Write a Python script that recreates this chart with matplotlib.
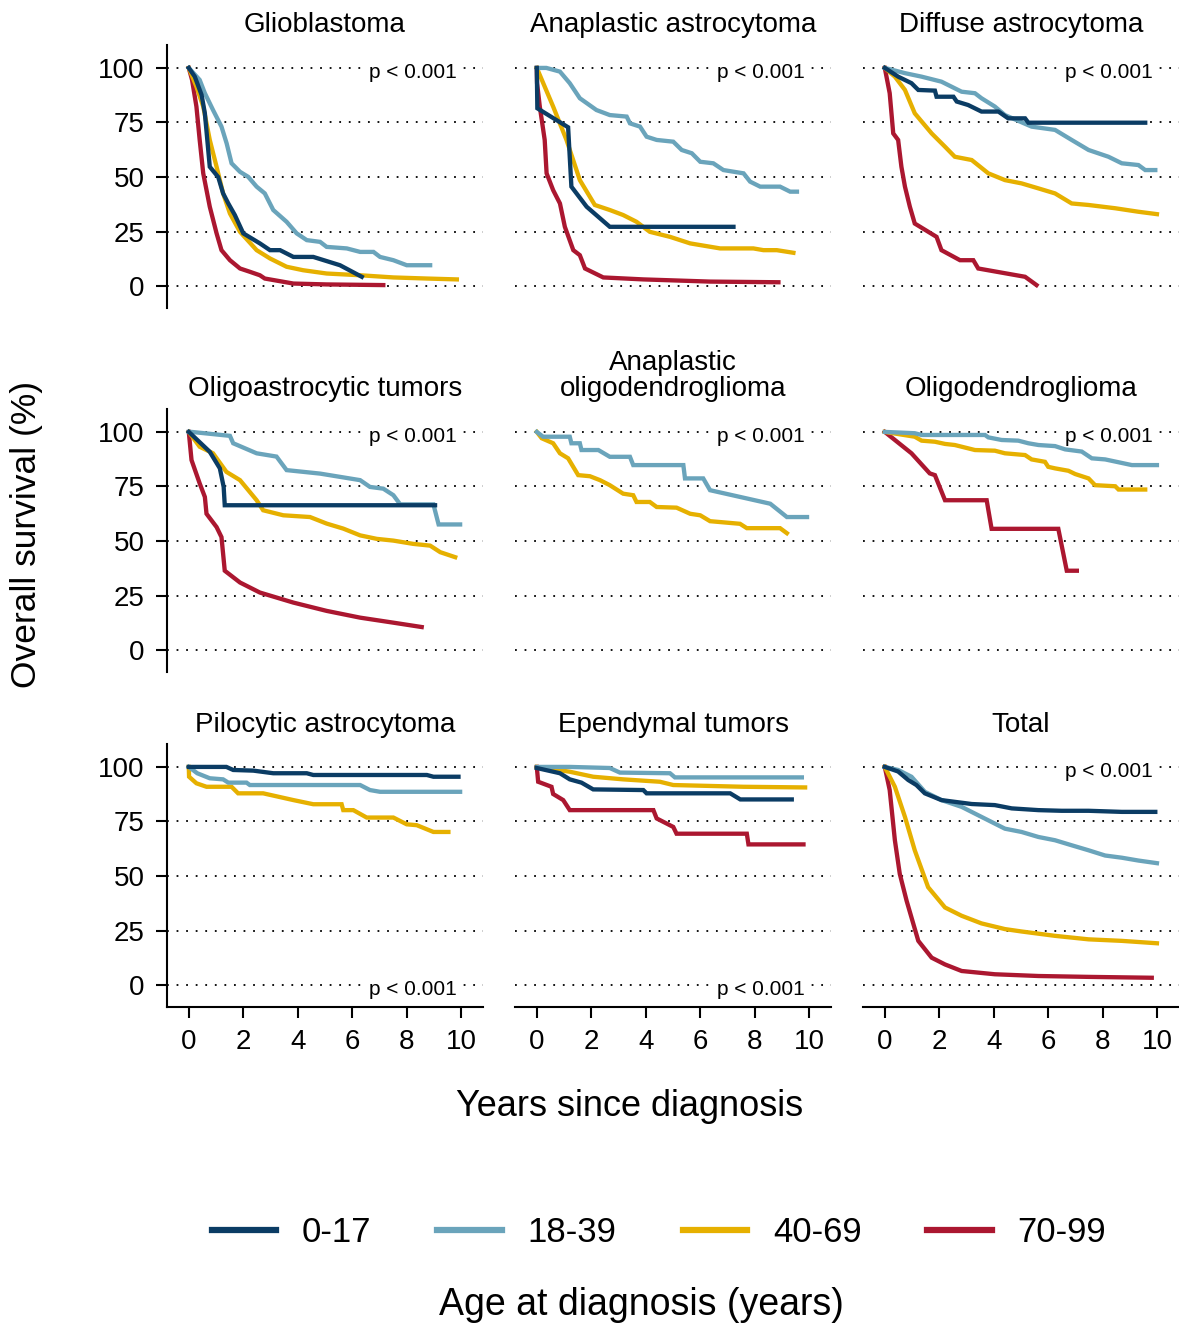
import matplotlib.pyplot as plt
from matplotlib.lines import Line2D

plt.rcParams['font.family'] = ['Liberation Sans', 'DejaVu Sans']

# age groups and colours
ages = ['0-17', '18-39', '40-69', '70-99']
colors = ['#0b3c64', '#6aa4bb', '#e6b000', '#ab1730']

titles = ['Glioblastoma', 'Anaplastic astrocytoma', 'Diffuse astrocytoma',
          'Oligoastrocytic tumors', 'Anaplastic\noligodendroglioma', 'Oligodendroglioma',
          'Pilocytic astrocytoma', 'Ependymal tumors', 'Total']
p_text = 'p < 0.001'
p_bottom = [False, False, False, False, False, False, True, True, False]

# survival curves (years, %)
gbm_0_17 = [(0, 100), (0.22, 96), (0.47, 87.6), (0.59, 79.2), (0.77, 54.7), (1.08, 50), (1.26, 42.5),
            (1.45, 37.9), (1.69, 32.6), (2.0, 24.2), (2.61, 19.6), (2.98, 16.5), (3.35, 16.5), (3.84, 13.4),
            (4.57, 13.4), (5.55, 9.6), (6.35, 4.3)]
gbm_18_39 = [(0, 100), (0.4, 94.5), (0.59, 88.4), (0.89, 80.7), (1.2, 73.1), (1.39, 65.4), (1.57, 56.3),
             (1.88, 52.4), (2.18, 50.1), (2.49, 45.6), (2.79, 42.5), (3.1, 34.9), (3.59, 29.5), (3.96, 24.2),
             (4.33, 21.1), (4.82, 20.3), (5.06, 18), (5.8, 17.3), (6.29, 15.7), (6.78, 15.7), (7.02, 13.4),
             (7.51, 11.9), (8.0, 9.6), (8.86, 9.6)]
gbm_40_69 = [(0, 100), (0.28, 91.4), (0.53, 82.3), (0.77, 67), (1.02, 54.7), (1.26, 42.5), (1.51, 33.3),
             (1.88, 24.9), (2.49, 16.5), (2.98, 12.7), (3.59, 8.9), (4.2, 7.3), (5.06, 5.8), (6.29, 5.0),
             (7.51, 4.0), (8.74, 3.5), (9.84, 3.1)]
gbm_70_99 = [(0, 100), (0.12, 94.5), (0.28, 82.3), (0.4, 67), (0.53, 51.7), (0.77, 36.4), (1.02, 24.2),
             (1.2, 16.5), (1.51, 11.9), (1.88, 8.1), (2.24, 6.6), (2.61, 5.0), (2.79, 3.5), (3.84, 1.2),
             (5.06, 0.8), (7.14, 0.5)]

aa_0_17 = [(0, 100), (0.02, 81.5), (1.15, 72.8), (1.27, 45.6), (1.83, 36.4), (2.68, 27.2), (7.22, 27.2)]
aa_18_39 = [(0, 100), (0.35, 100), (0.85, 98.3), (1.21, 93), (1.58, 86.1), (2.19, 80.7), (2.68, 78.4),
            (3.3, 77.7), (3.42, 74.6), (3.79, 73.1), (4.03, 68.5), (4.4, 67), (5.01, 66.2), (5.32, 62.4),
            (5.69, 60.9), (6.0, 57), (6.48, 56.3), (6.85, 53.2), (7.59, 51.7), (7.83, 47.9), (8.2, 45.6),
            (8.93, 45.6), (9.3, 43.3), (9.55, 43.3)]
aa_40_69 = [(0, 100), (0.6, 82.3), (1.09, 67), (1.58, 48.6), (2.13, 37.2), (2.68, 34.9), (3.17, 32.6),
            (3.66, 29.5), (4.15, 24.9), (4.89, 22.6), (5.26, 21.1), (5.63, 19.6), (6.73, 17.3), (7.95, 17.3),
            (8.32, 16.5), (8.81, 16.5), (9.42, 15.3)]
aa_70_99 = [(0, 100), (0.01, 93), (0.11, 82.3), (0.29, 67), (0.36, 51.7), (0.6, 44), (0.85, 37.9),
            (1.03, 27.2), (1.34, 16.5), (1.58, 14.2), (1.77, 8.1), (2.44, 4.0), (3.91, 3.1), (6.36, 2.1),
            (8.87, 1.8)]

da_0_17 = [(0, 100), (0.49, 96), (0.98, 93), (1.23, 89.9), (1.84, 89.6), (1.9, 86.8), (2.52, 86.8),
           (2.64, 84.6), (3.06, 83), (3.55, 80), (4.17, 80), (4.53, 76.9), (5.15, 76.9), (5.27, 74.9),
           (9.56, 74.9)]
da_18_39 = [(0, 100), (0.74, 97.6), (1.35, 96), (2.08, 93.7), (2.82, 89.1), (3.31, 88.4), (3.55, 86.1),
            (4.04, 82.3), (4.41, 78.4), (5.39, 73.1), (6.25, 71.6), (6.86, 67), (7.48, 62.4), (8.21, 59.3),
            (8.7, 56.3), (9.31, 55.5), (9.56, 53.2), (9.93, 53.2)]
da_40_69 = [(0, 100), (0.37, 96), (0.74, 89.9), (1.1, 79.2), (1.72, 70), (2.21, 63.9), (2.57, 59.3),
            (3.19, 57.8), (3.8, 51.7), (4.41, 48.6), (5.02, 47.1), (5.64, 44.8), (6.25, 42.5), (6.86, 37.9),
            (7.48, 37.2), (8.46, 35.7), (9.31, 34.1), (9.99, 33.0)]
da_70_99 = [(0, 100), (0.18, 88.4), (0.31, 70), (0.49, 67), (0.61, 54.7), (0.74, 45.6), (0.92, 36.4),
            (1.1, 28.7), (1.9, 22.6), (2.08, 16.5), (2.76, 11.9), (3.25, 11.9), (3.43, 8.1), (5.15, 4.3),
            (5.57, 0.5)]

oa_0_17 = [(0, 100), (0.77, 90.9), (1.14, 83.3), (1.28, 74.8), (1.32, 66.4), (9.04, 66.4)]
oa_18_39 = [(0, 100), (0.1, 100), (1.51, 98.2), (1.63, 94.8), (2.49, 90.2), (3.22, 88.7), (3.59, 82.5),
            (4.82, 80.9), (6.29, 77.9), (6.65, 74.8), (7.14, 74.0), (7.51, 71.0), (7.76, 66.8), (8.98, 66.8),
            (9.17, 57.6), (9.96, 57.6)]
oa_40_69 = [(0, 100), (0.4, 93.2), (0.89, 90.2), (1.38, 81.7), (1.88, 77.9), (2.49, 68.7), (2.73, 64.1),
            (3.47, 61.8), (4.45, 61.0), (5.06, 58.0), (5.67, 55.7), (6.29, 52.6), (6.9, 51.0), (7.51, 50.2),
            (8.24, 48.7), (8.86, 47.9), (9.23, 44.9), (9.78, 42.6)]
oa_70_99 = [(0, 100), (0.1, 87.1), (0.4, 76.4), (0.59, 70.2), (0.65, 62.5), (1.02, 56.4), (1.2, 51.8),
            (1.32, 36.4), (1.88, 31.0), (2.61, 26.4), (3.84, 21.8), (5.06, 18.0), (6.29, 14.9), (7.51, 12.6),
            (8.55, 10.6)]

ao_18_39 = [(0, 100), (0.23, 97.8), (1.21, 97.8), (1.27, 94.8), (1.58, 94.8), (1.64, 91.7), (2.26, 91.7),
            (2.68, 88.6), (3.42, 88.6), (3.54, 84.8), (5.38, 84.8), (5.44, 78.7), (6.11, 78.7), (6.36, 73.3),
            (8.57, 67.1), (9.18, 61.0), (9.92, 61.0)]
ao_40_69 = [(0, 100), (0.18, 97.1), (0.6, 94.8), (0.85, 90.2), (1.15, 87.9), (1.52, 80.2), (1.95, 79.7),
            (2.32, 77.9), (2.68, 75.6), (3.17, 71.7), (3.54, 71.0), (3.66, 67.9), (4.15, 67.9), (4.4, 65.6),
            (5.13, 65.3), (5.63, 62.5), (6.0, 61.8), (6.36, 59.1), (6.73, 58.7), (7.46, 57.9), (7.71, 55.9),
            (8.93, 55.9), (9.18, 53.6)]

od_18_39 = [(0, 100), (1.1, 99.4), (1.35, 98.6), (3.68, 98.6), (3.8, 97.5), (4.29, 96.3), (4.9, 96.0),
            (5.27, 94.8), (5.64, 94.0), (6.25, 93.5), (6.62, 92.0), (7.23, 91.0), (7.6, 87.9), (8.09, 87.4),
            (9.07, 84.8), (9.99, 84.8)]
od_40_69 = [(0, 100), (1.1, 97.8), (1.35, 96.0), (1.84, 95.5), (2.21, 94.5), (2.57, 94.0), (3.31, 91.7),
            (4.04, 91.4), (4.41, 90.2), (5.15, 89.4), (5.39, 87.4), (5.88, 86.3), (6.0, 84.0), (6.25, 83.3),
            (6.74, 82.2), (6.99, 80.7), (7.48, 78.7), (7.72, 75.6), (8.46, 75.1), (8.58, 73.6), (9.56, 73.6)]
od_70_99 = [(0, 100), (0.98, 90.2), (1.65, 81.0), (1.84, 80.2), (2.21, 68.7), (3.74, 68.7), (3.92, 55.6),
            (6.37, 55.6), (6.68, 36.4), (7.05, 36.4)]

pa_0_17 = [(0, 100), (1.38, 100), (1.63, 98.6), (2.37, 98.3), (3.1, 97.1), (4.33, 97.1), (4.57, 96.3),
           (8.74, 96.3), (8.98, 95.5), (9.9, 95.5)]
pa_18_39 = [(0, 100), (0.31, 97.1), (0.77, 94.8), (1.26, 94.3), (1.45, 92.8), (2.12, 92.8), (2.24, 91.7),
            (6.29, 91.7), (6.65, 89.4), (7.02, 88.6), (9.96, 88.6)]
pa_40_69 = [(0, 100), (0.01, 95.5), (0.28, 92.5), (0.65, 90.9), (1.57, 90.9), (1.81, 87.9), (2.73, 87.9),
            (3.84, 84.8), (4.57, 82.9), (5.61, 82.9), (5.67, 80.2), (6.04, 80.2), (6.53, 76.8), (7.51, 76.8),
            (8.0, 73.7), (8.37, 73.3), (8.98, 70.2), (9.53, 70.2)]

ep_0_17 = [(0, 99.5), (0.85, 97.1), (1.21, 94.3), (1.64, 92.8), (2.07, 89.7), (3.91, 89.4), (4.03, 87.9),
           (7.1, 87.9), (7.47, 85.1), (9.36, 85.1)]
ep_18_39 = [(0, 100), (1.21, 100), (2.68, 99.5), (3.05, 97.4), (4.89, 97.1), (5.07, 95.2), (9.73, 95.2)]
ep_40_69 = [(0, 100), (1.21, 97.8), (2.07, 95.5), (3.17, 94.3), (4.52, 93.2), (5.01, 91.7), (7.59, 90.9),
            (9.85, 90.6)]
ep_70_99 = [(0, 100), (0.05, 93.2), (0.54, 90.9), (0.6, 87.6), (0.97, 84.8), (1.21, 80.2), (4.28, 80.2),
            (4.4, 76.4), (5.01, 72.5), (5.13, 69.4), (7.71, 69.4), (7.77, 64.5), (9.79, 64.5)]

tot_0_17 = [(0, 100), (0.49, 97.9), (0.86, 94.0), (1.16, 91.7), (1.47, 87.9), (2.08, 84.8), (2.57, 84.0),
            (3.19, 83.0), (4.04, 82.5), (4.66, 81.0), (5.64, 80.2), (6.49, 79.9), (7.48, 79.9), (8.7, 79.4),
            (9.93, 79.4)]
tot_18_39 = [(0, 100), (0.49, 98.6), (0.98, 95.5), (1.47, 88.6), (2.08, 84.8), (2.82, 81.7), (3.55, 77.1),
             (4.41, 71.7), (5.02, 70.2), (5.64, 67.9), (6.25, 66.4), (6.86, 64.1), (7.48, 61.8), (8.09, 59.4),
             (8.7, 58.4), (9.31, 57.1), (9.99, 55.9)]
tot_40_69 = [(0, 100), (0.37, 90.9), (0.74, 77.1), (1.1, 61.8), (1.59, 44.9), (2.21, 35.6), (2.82, 31.8),
             (3.55, 28.3), (4.41, 25.7), (5.02, 24.6), (6.25, 22.6), (7.48, 21.0), (8.7, 20.3), (9.99, 19.2)]
tot_70_99 = [(0, 100), (0.18, 89.4), (0.37, 66.4), (0.55, 51.0), (0.8, 38.7), (1.23, 20.3), (1.72, 12.6),
             (2.21, 9.5), (2.82, 6.5), (4.04, 5.0), (5.64, 4.2), (7.48, 3.8), (9.8, 3.4)]

panels = [
    [gbm_0_17, gbm_18_39, gbm_40_69, gbm_70_99],
    [aa_0_17, aa_18_39, aa_40_69, aa_70_99],
    [da_0_17, da_18_39, da_40_69, da_70_99],
    [oa_0_17, oa_18_39, oa_40_69, oa_70_99],
    [None, ao_18_39, ao_40_69, None],
    [None, od_18_39, od_40_69, od_70_99],
    [pa_0_17, pa_18_39, pa_40_69, None],
    [ep_0_17, ep_18_39, ep_40_69, ep_70_99],
    [tot_0_17, tot_18_39, tot_40_69, tot_70_99],
]

W, H = 1179, 1327
fig = plt.figure(figsize=(W / 100, H / 100), dpi=100)

col_left = [167, 515, 863]
row_top = [45, 409, 744]
ax_w, ax_h = 316, 263

for i, curves in enumerate(panels):
    r, c = divmod(i, 3)
    ax = fig.add_axes([col_left[c] / W, 1 - (row_top[r] + ax_h) / H, ax_w / W, ax_h / H])
    ax.set_xlim(-0.8, 10.8)
    ax.set_ylim(-10, 110.5)

    for y in [0, 25, 50, 75, 100]:
        ax.axhline(y, color='black', lw=1.3, ls=(0, (1, 4.3)), zorder=0)

    # draw oldest group first so younger ones sit on top
    for k in [3, 2, 1, 0]:
        pts = curves[k]
        if pts is None:
            continue
        t = [p[0] for p in pts]
        s = [p[1] for p in pts]
        ax.plot(t, s, color=colors[k], lw=3.1, solid_joinstyle='miter', zorder=2 + (3 - k))

    # p-value label masks the dotted line but sits under the curves
    py = 0 if p_bottom[i] else 100
    ax.text(9.85, py - 2, p_text, ha='right', va='center', fontsize=15, zorder=1,
            bbox=dict(facecolor='white', edgecolor='none', pad=3))

    ax.set_title(titles[i], fontsize=20, pad=9, linespacing=1.0)

    for sp in ['top', 'right']:
        ax.spines[sp].set_visible(False)
    ax.spines['left'].set_visible(c == 0)
    ax.spines['bottom'].set_visible(r == 2)
    ax.spines['left'].set_linewidth(1.5)
    ax.spines['bottom'].set_linewidth(1.5)

    ax.set_yticks([0, 25, 50, 75, 100])
    ax.set_xticks([0, 2, 4, 6, 8, 10])
    ax.tick_params(axis='both', labelsize=20, length=8, width=1.5)
    ax.tick_params(axis='y', pad=8, left=(c == 0), labelleft=(c == 0))
    ax.tick_params(axis='x', pad=7.5, bottom=(r == 2), labelbottom=(r == 2))

fig.text(27 / W, 1 - 534 / H, 'Overall survival (%)', rotation=90, ha='center', va='center', fontsize=25.5)
fig.text(630 / W, 1 - 1107 / H, 'Years since diagnosis', ha='center', va='center', fontsize=26)

handles = [Line2D([0], [0], color=colors[k], lw=4.5) for k in range(4)]
fig.legend(handles, ages, loc='center', bbox_to_anchor=(659 / W, 1 - 1233 / H), ncol=4, frameon=False,
           fontsize=25, handlelength=1.85, handletextpad=0.75, columnspacing=1.9)
fig.text(641 / W, 1 - 1305 / H, 'Age at diagnosis (years)', ha='center', va='center', fontsize=27)

fig.savefig('out.png', dpi=100)
